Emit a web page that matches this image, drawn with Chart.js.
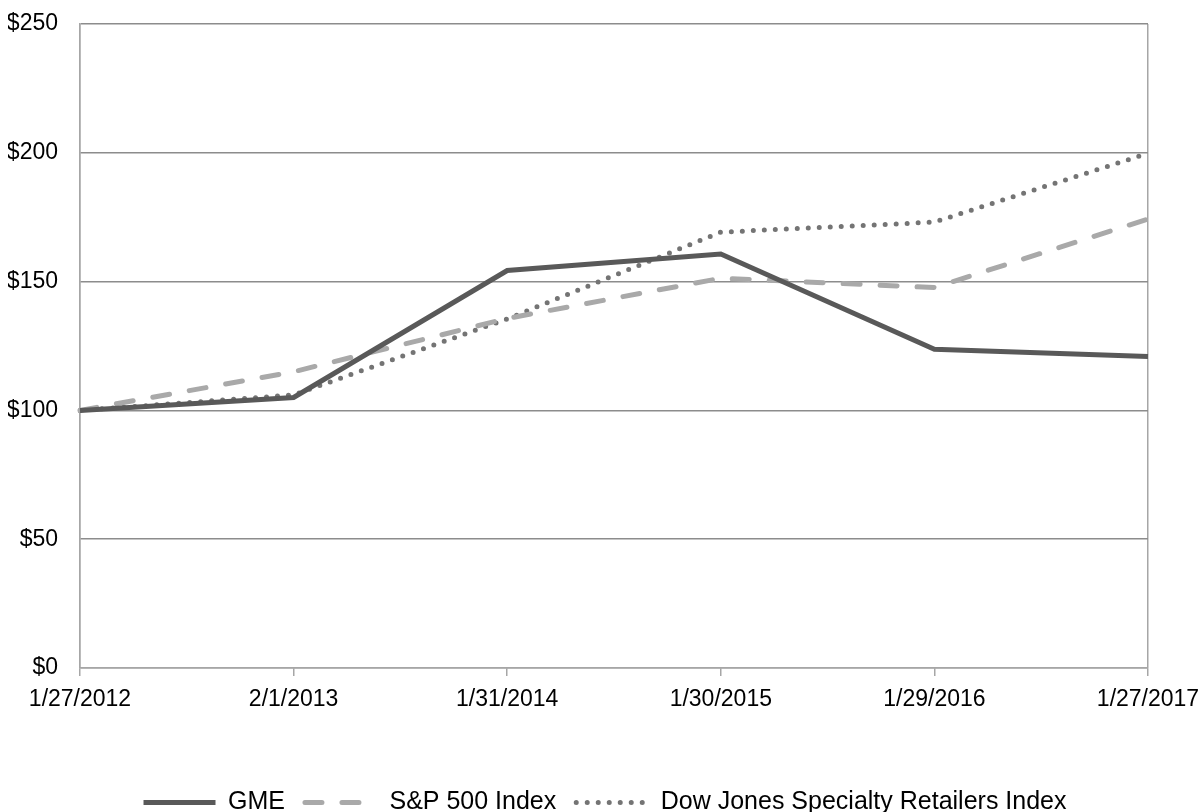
<!DOCTYPE html>
<html>
<head>
<meta charset="utf-8">
<script src="https://cdn.jsdelivr.net/npm/chart.js@4"></script>
<style>
    html, body { margin: 0; padding: 0; background: #fff; }
    #wrap { width: 1202px; height: 812px; }
</style>
</head>
<body>
<div id="wrap"><canvas id="chart"></canvas></div>
<script>
    'use strict';

    const dates = ['1/27/2012', '2/1/2013', '1/31/2014', '1/30/2015', '1/29/2016', '1/27/2017'];
    const gme = [100, 105, 154.3, 160.7, 123.7, 120.9];
    const sp500 = [100, 115, 135.7, 151.3, 147.7, 174.3];
    const djRetail = [100, 106, 135.5, 169.2, 173.1, 199.8];
    const yTicks = [0, 50, 100, 150, 200, 250];

    // plot area edges
    const PLOT_LEFT = 80;
    const PLOT_RIGHT_GAP = 54;
    const PLOT_BOTTOM = 668;
    const LEGEND_DROP = 13;

    Chart.defaults.font.family = '"Liberation Sans", Arial, sans-serif';
    Chart.defaults.font.size = 23;
    Chart.defaults.color = '#000';

    new Chart(document.getElementById('chart'), {
        type: 'line',
        data: {
            labels: dates,
            datasets: [
                {
                    label: 'GME',
                    data: gme,
                    borderColor: '#595959',
                    borderWidth: 5,
                    pointRadius: 0,
                    tension: 0
                },
                {
                    label: 'S&P 500 Index',
                    data: sp500,
                    borderColor: '#a9a9a9',
                    borderWidth: 5,
                    borderDash: [17, 20],
                    borderCapStyle: 'round',
                    pointRadius: 0,
                    tension: 0
                },
                {
                    label: 'Dow Jones Specialty Retailers Index',
                    data: djRetail,
                    borderColor: '#747474',
                    borderWidth: 5,
                    borderDash: [0, 11],
                    borderCapStyle: 'round',
                    pointRadius: 0,
                    tension: 0
                }
            ]
        },
        options: {
            responsive: true,
            maintainAspectRatio: false,
            animation: false,
            layout: { padding: { left: 8, right: 0, top: 24, bottom: -LEGEND_DROP } },
            plugins: {
                tooltip: { enabled: false },
                legend: {
                    position: 'bottom',
                    labels: {
                        usePointStyle: true,
                        pointStyle: 'line',
                        pointStyleWidth: 72,
                        padding: 20,
                        color: '#000',
                        font: { size: 25 },
                        generateLabels: chart => chart.data.datasets.map((ds, i) => ({
                            text: ds.label,
                            fillStyle: ds.borderColor,
                            strokeStyle: ds.borderColor,
                            lineWidth: ds.borderWidth,
                            lineDash: ds.borderDash || [],
                            lineCap: ds.borderCapStyle || 'butt',
                            pointStyle: 'line',
                            hidden: false,
                            datasetIndex: i
                        }))
                    }
                }
            },
            scales: {
                x: {
                    offset: false,
                    border: { display: true, color: '#a6a6a6', width: 1.5 },
                    grid: {
                        color: ctx => (ctx.index === 0 || ctx.index === dates.length - 1) ? '#a6a6a6' : 'rgba(0,0,0,0)',
                        tickColor: '#a6a6a6',
                        tickLength: 8,
                        lineWidth: 1.5
                    },
                    ticks: { padding: 10, maxRotation: 0, autoSkip: false },
                    afterFit: scale => {
                        scale.height = scale.chart.height + LEGEND_DROP - PLOT_BOTTOM - scale.chart.legend.height;
                        scale.paddingRight = PLOT_RIGHT_GAP;
                    }
                },
                y: {
                    min: 0,
                    max: 250,
                    afterBuildTicks: scale => { scale.ticks = yTicks.map(v => ({ value: v })); },
                    border: { display: true, color: '#a6a6a6', width: 1.5 },
                    grid: { color: '#8c8c8c', lineWidth: 1.5, drawTicks: false },
                    ticks: {
                        padding: 22,
                        callback: v => '$' + v
                    },
                    afterFit: scale => {
                        scale.width = PLOT_LEFT - 8;
                        scale.paddingTop = 0;
                        scale.paddingBottom = 0;
                    }
                }
            }
        }
    });
</script>
</body>
</html>
